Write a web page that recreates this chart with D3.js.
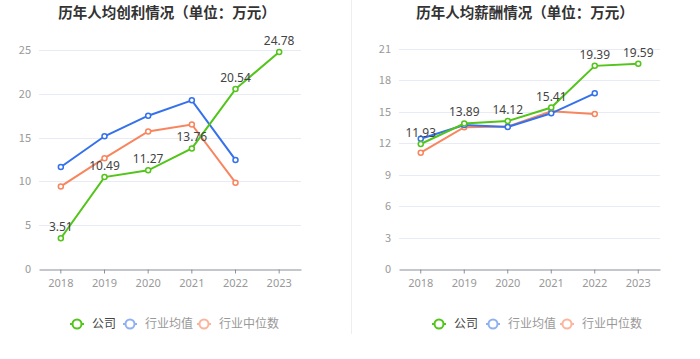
<!DOCTYPE html>
<html><head><meta charset="utf-8">
<script src="https://cdn.jsdelivr.net/npm/d3@7/dist/d3.min.js"></script>
<style>html,body{margin:0;padding:0;background:#fff;}svg{display:block;font-family:"Noto Sans CJK SC","Noto Sans",sans-serif;}</style>
</head><body><svg id="c" width="700" height="359"></svg>
<script>
const years = ["2018","2019","2020","2021","2022","2023"];
const seriesNames = ["公司","行业均值","行业中位数"];
const profitCompany = [3.51,10.49,11.27,13.76,20.54,24.78];
const profitMean = [11.64,15.15,17.5,19.25,12.45,null];
const profitMedian = [9.43,12.65,15.7,16.5,9.85,null];
const salaryCompany = [11.93,13.89,14.12,15.41,19.39,19.59];
const salaryMean = [12.43,13.74,13.56,14.86,16.77,null];
const salaryMedian = [11.1,13.53,13.6,15.05,14.8,null];
const profitTicks = [0,5,10,15,20,25];
const salaryTicks = [0,3,6,9,12,15,18,21];
const titles = ["历年人均创利情况（单位：万元）","历年人均薪酬情况（单位：万元）"];

const colors = ["#52c41a","#3471eb","#f8855d"];
const legendColors = ["#52c41a","#8fb0f3","#fbb59c"];
const svg = d3.select("#c");

// divider
svg.append("line").attr("x1",351.5).attr("x2",351.5).attr("y1",0).attr("y2",334)
  .attr("stroke","#eeeeee").attr("stroke-width",1);

function drawChart(opt){
  const g = svg.append("g");
  const x = d3.scaleBand().domain(years).range([opt.x0,opt.x1]);
  const y = d3.scaleLinear().domain([0,opt.max]).range([269,opt.yTop]);
  // title
  g.append("text").attr("x",opt.titleX).attr("y",18).attr("text-anchor","middle")
    .attr("font-size",14.5).attr("font-weight","bold").attr("fill","#333").text(opt.title);
  // grid
  g.selectAll(".grid").data(opt.ticks.filter(t=>t>0)).join("line")
    .attr("x1",opt.x0).attr("x2",opt.x1).attr("y1",d=>Math.round(y(d))+0.5).attr("y2",d=>Math.round(y(d))+0.5)
    .attr("stroke","#e8ebf3").attr("stroke-width",1);
  // y labels
  g.selectAll(".yl").data(opt.ticks).join("text")
    .attr("x",opt.x0-8).attr("y",d=>y(d)+4).attr("text-anchor","end")
    .attr("font-size",11).attr("fill","#999").text(d=>d);
  // x axis
  const xa = g.append("g").attr("transform","translate(0,269.5)")
    .call(d3.axisBottom(x).tickSize(4).tickSizeOuter(0));
  xa.select(".domain").attr("stroke","#8a8f99");
  xa.selectAll(".tick line").attr("stroke","#8a8f99");
  xa.selectAll(".tick text").attr("fill","#999").attr("font-size",11).attr("dy","0.95em")
    .attr("font-family","'Noto Sans',sans-serif");
  // series
  const data = [opt.company,opt.mean,opt.median];
  [2,1,0].forEach(i=>{
    const pts = years.map((yr,j)=>({yr,v:data[i][j]})).filter(d=>d.v!=null);
    g.append("path").datum(pts).attr("fill","none").attr("stroke",colors[i]).attr("stroke-width",2)
      .attr("d",d3.line().x(d=>x(d.yr)+x.bandwidth()/2).y(d=>y(d.v)));
    g.selectAll(null).data(pts).join("circle")
      .attr("cx",d=>x(d.yr)+x.bandwidth()/2).attr("cy",d=>y(d.v)).attr("r",2.5)
      .attr("fill","#fff").attr("stroke",colors[i]).attr("stroke-width",1.5);
  });
  // labels for company
  const cp = years.map((yr,j)=>({yr,v:opt.company[j]}));
  g.selectAll(null).data(cp).join("text")
    .attr("x",d=>x(d.yr)+x.bandwidth()/2).attr("y",d=>y(d.v)-7).attr("text-anchor","middle")
    .attr("font-size",12).attr("fill","#444").attr("font-family","'Noto Sans',sans-serif")
    .text(d=>d.v.toFixed(2));
  // legend
  const lg = g.append("g");
  opt.legendX.forEach((lx,i)=>{
    lg.append("line").attr("x1",lx).attr("x2",lx+14).attr("y1",324).attr("y2",324)
      .attr("stroke",legendColors[i]).attr("stroke-width",2);
    lg.append("circle").attr("cx",lx+7).attr("cy",324).attr("r",4.5)
      .attr("fill","#fff").attr("stroke",legendColors[i]).attr("stroke-width",2);
    lg.append("text").attr("x",lx+22).attr("y",328).attr("font-size",12)
      .attr("fill",i===0?"#444":"#999").text(seriesNames[i]);
  });
}

drawChart({x0:39,x1:301,max:25,yTop:50,ticks:profitTicks,title:titles[0],titleX:167,
  company:profitCompany,mean:profitMean,median:profitMedian,legendX:[70,123,197]});
drawChart({x0:399,x1:660,max:21,yTop:49,ticks:salaryTicks,title:titles[1],titleX:525,
  company:salaryCompany,mean:salaryMean,median:salaryMedian,legendX:[432,486,560]});
</script></body></html>
